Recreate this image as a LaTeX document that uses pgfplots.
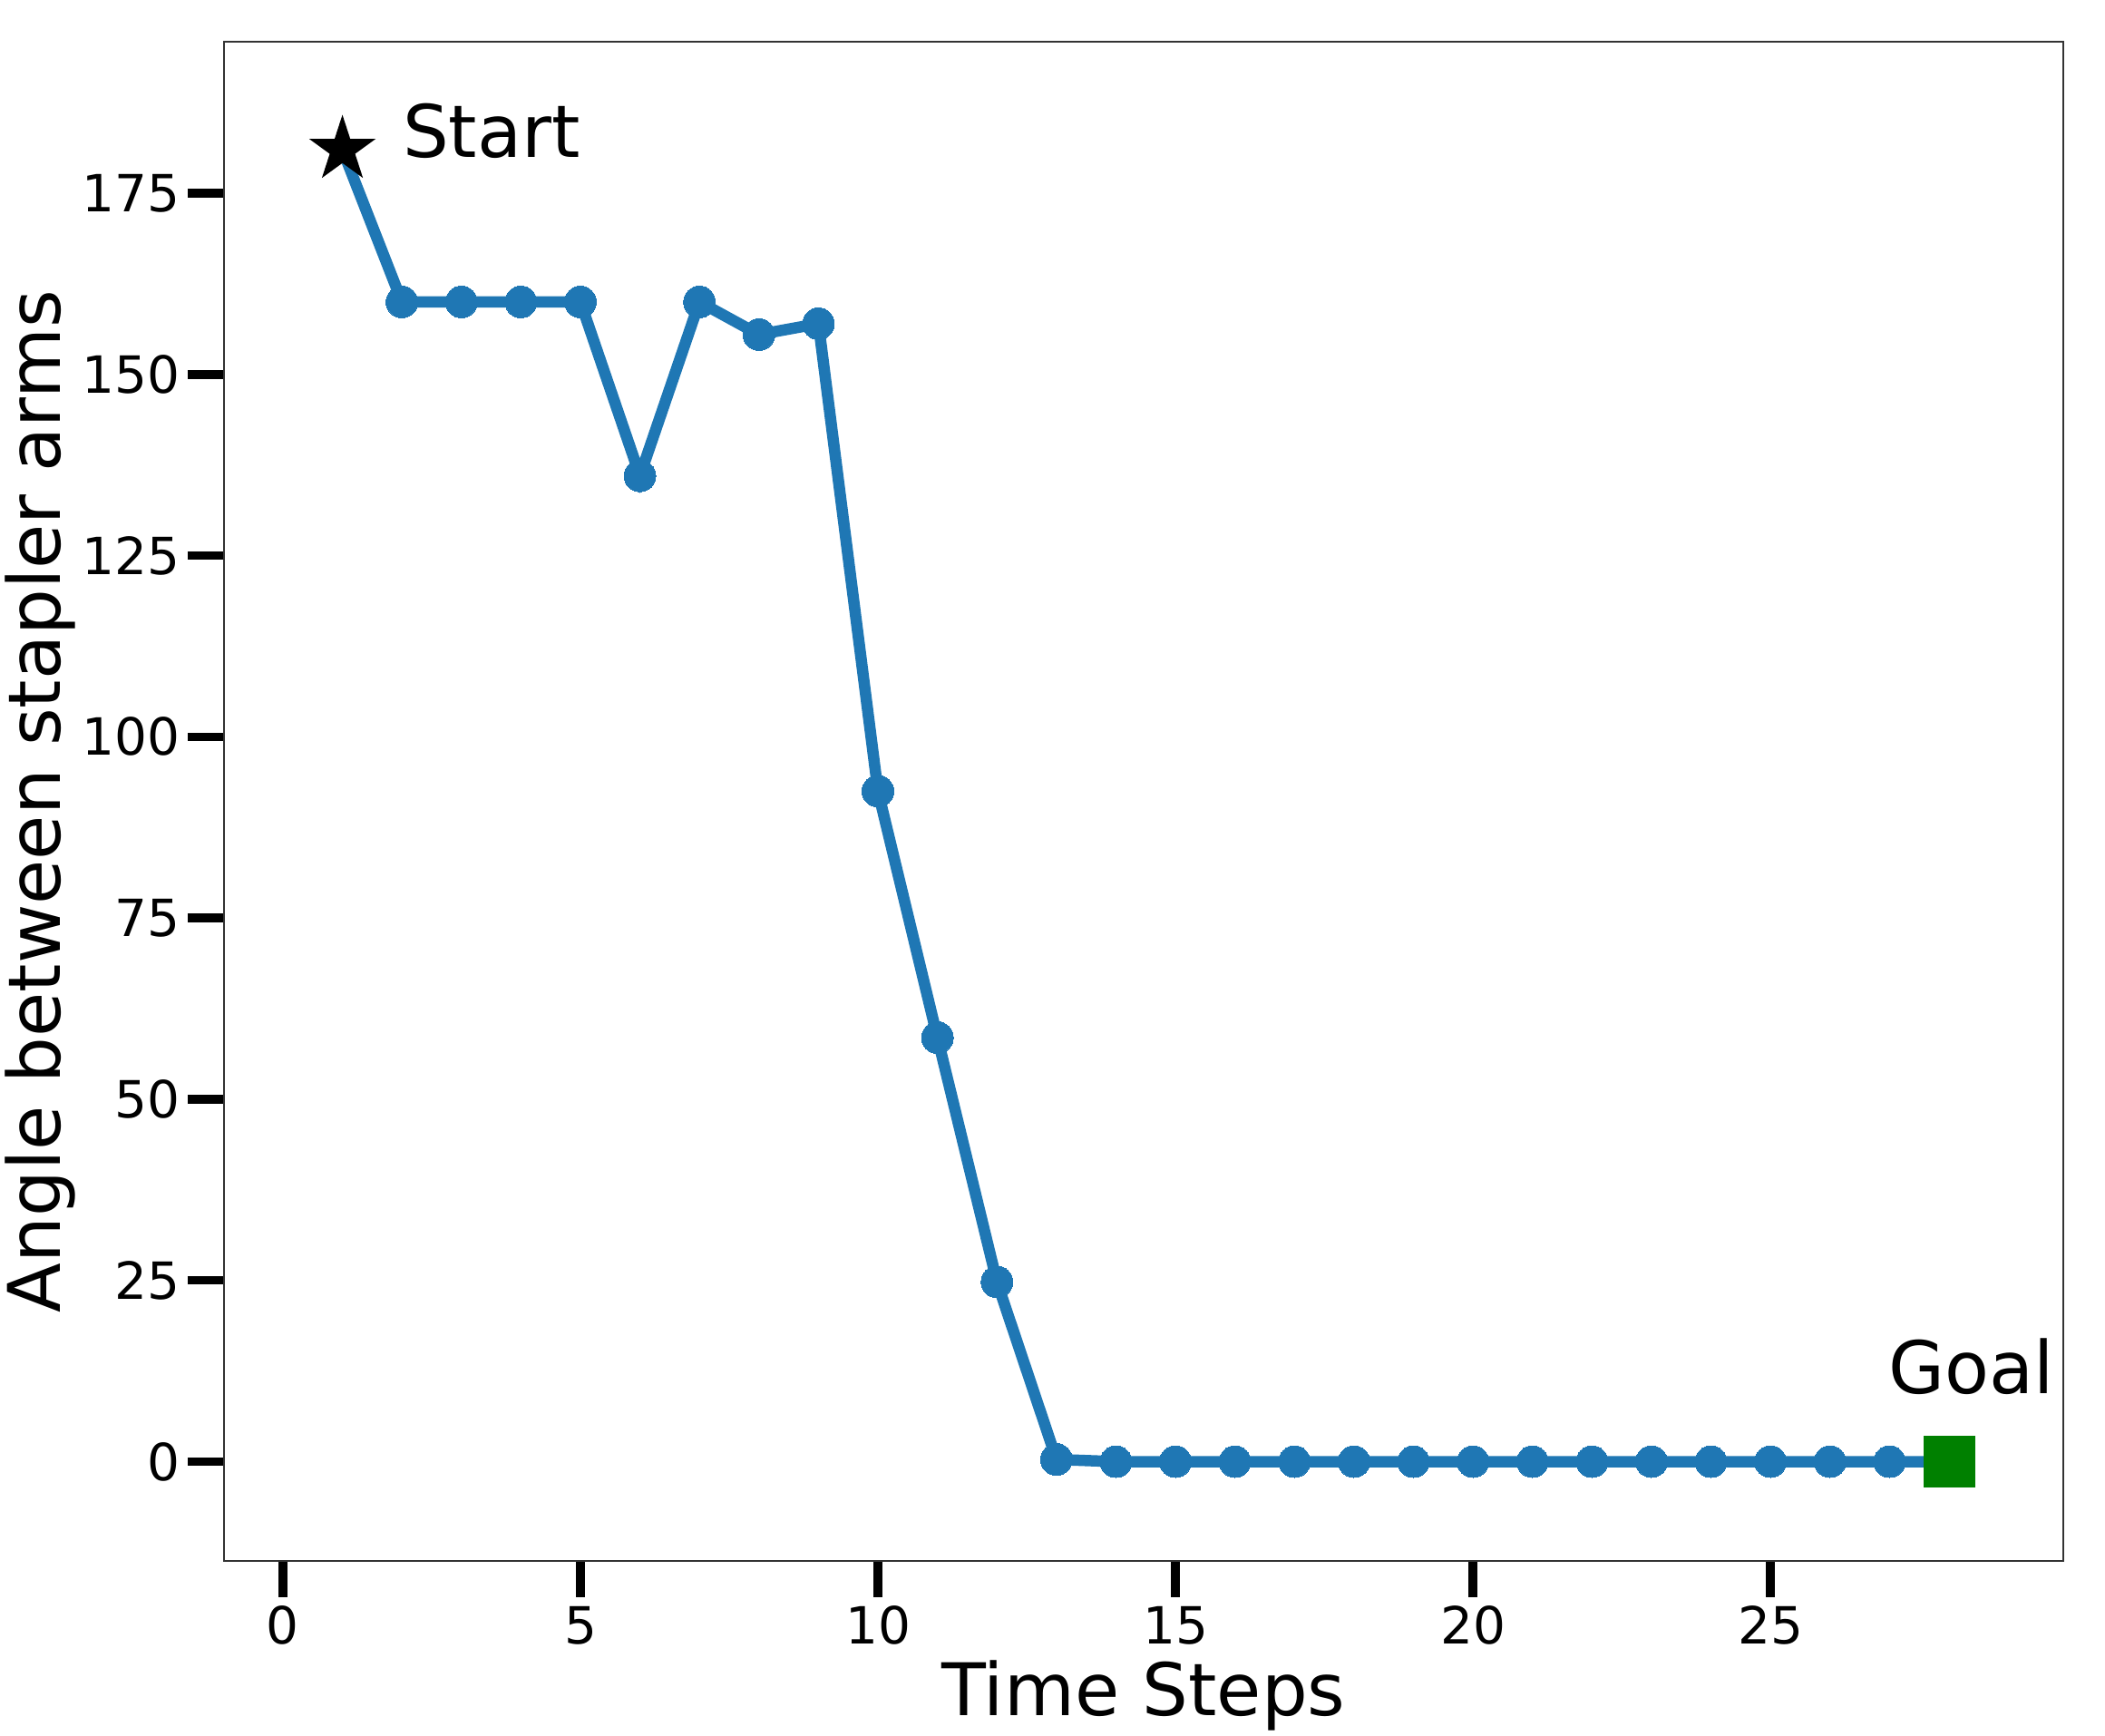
\documentclass[border=0pt]{standalone}
\usepackage{fontspec}
\setmainfont{DejaVu Sans}
\usepackage{pgfplots}
\pgfplotsset{compat=1.18}
\definecolor{mplblue}{HTML}{1F77B4}
\definecolor{mplgreen}{HTML}{008000}
% filled five-pointed star (matplotlib '*')
\pgfdeclareplotmark{fstar}{%
  \pgfpathmoveto{\pgfpointpolar{90}{\pgfplotmarksize}}%
  \pgfpathlineto{\pgfpointpolar{126}{0.382\pgfplotmarksize}}%
  \pgfpathlineto{\pgfpointpolar{162}{\pgfplotmarksize}}%
  \pgfpathlineto{\pgfpointpolar{198}{0.382\pgfplotmarksize}}%
  \pgfpathlineto{\pgfpointpolar{234}{\pgfplotmarksize}}%
  \pgfpathlineto{\pgfpointpolar{270}{0.382\pgfplotmarksize}}%
  \pgfpathlineto{\pgfpointpolar{306}{\pgfplotmarksize}}%
  \pgfpathlineto{\pgfpointpolar{342}{0.382\pgfplotmarksize}}%
  \pgfpathlineto{\pgfpointpolar{18}{\pgfplotmarksize}}%
  \pgfpathlineto{\pgfpointpolar{54}{0.382\pgfplotmarksize}}%
  \pgfpathclose\pgfusepathqfill}
\begin{document}
\begin{tikzpicture}
\begin{axis}[
  scale only axis,
  width=405.6pt, height=335pt,
  xmin=-0.99, xmax=29.92,
  ymin=-13.7, ymax=195.9,
  xtick={0,5,10,15,20,25},
  ytick={0,25,50,75,100,125,150,175},
  xtick pos=bottom, ytick pos=left,
  tick align=outside,
  major tick length=8pt,
  tick style={black, line width=1.9pt},
  axis line style={black!80, line width=0.35pt},
  /pgf/number format/assume math mode=true,
  tick label style={font=\fontsize{11.3}{13}\selectfont, inner sep=0pt},
  xticklabel style={yshift=-1.8pt},
  yticklabel style={xshift=-1.6pt},
  label style={font=\fontsize{16}{19}\selectfont},
  xlabel={Time Steps},
  ylabel={Angle between stapler arms},
  xlabel style={at={(axis description cs:0.5,-0.1021)}, anchor=base},
  ylabel style={at={(axis description cs:-0.0888,0.5)}, anchor=base},
  clip=false,
]
% start and goal markers (drawn under the line)
\addplot[only marks, mark=fstar, mark size=7.7pt, black] coordinates {(1,181)};
\addplot[only marks, mark=square*, mark size=5.5pt, mplgreen, mark options={draw=mplgreen, fill=mplgreen}] coordinates {(28,0)};
% trajectory
\addplot[mplblue, line width=2.5pt, mark=*, mark size=3.5pt,
  mark indices={2,...,27}, mark options={draw=mplblue, fill=mplblue, line width=0pt}]
  coordinates {
    (1,181)(2,160)(3,160)(4,160)(5,160)(6,136)(7,160)(8,155.5)(9,157)
    (10,92.5)(11,58.5)(12,24.8)(13,0.3)(14,0)(15,0)(16,0)(17,0)(18,0)
    (19,0)(20,0)(21,0)(22,0)(23,0)(24,0)(25,0)(26,0)(27,0)(28,0)
  };
\node[anchor=base west, inner sep=0pt, font=\fontsize{16}{19}\selectfont] at (axis cs:2.0,180) {Start};
\node[anchor=base, inner sep=0pt, font=\fontsize{16}{19}\selectfont] at (axis cs:28.37,9.4) {Goal};
\coordinate (sw) at (rel axis cs:0,0);
\coordinate (ne) at (rel axis cs:1,1);
\end{axis}
\pgfresetboundingbox
\path ([shift={(-49.4pt,-38.6pt)}]sw) rectangle ([shift={(9.2pt,9.2pt)}]ne);
\end{tikzpicture}
\end{document}
